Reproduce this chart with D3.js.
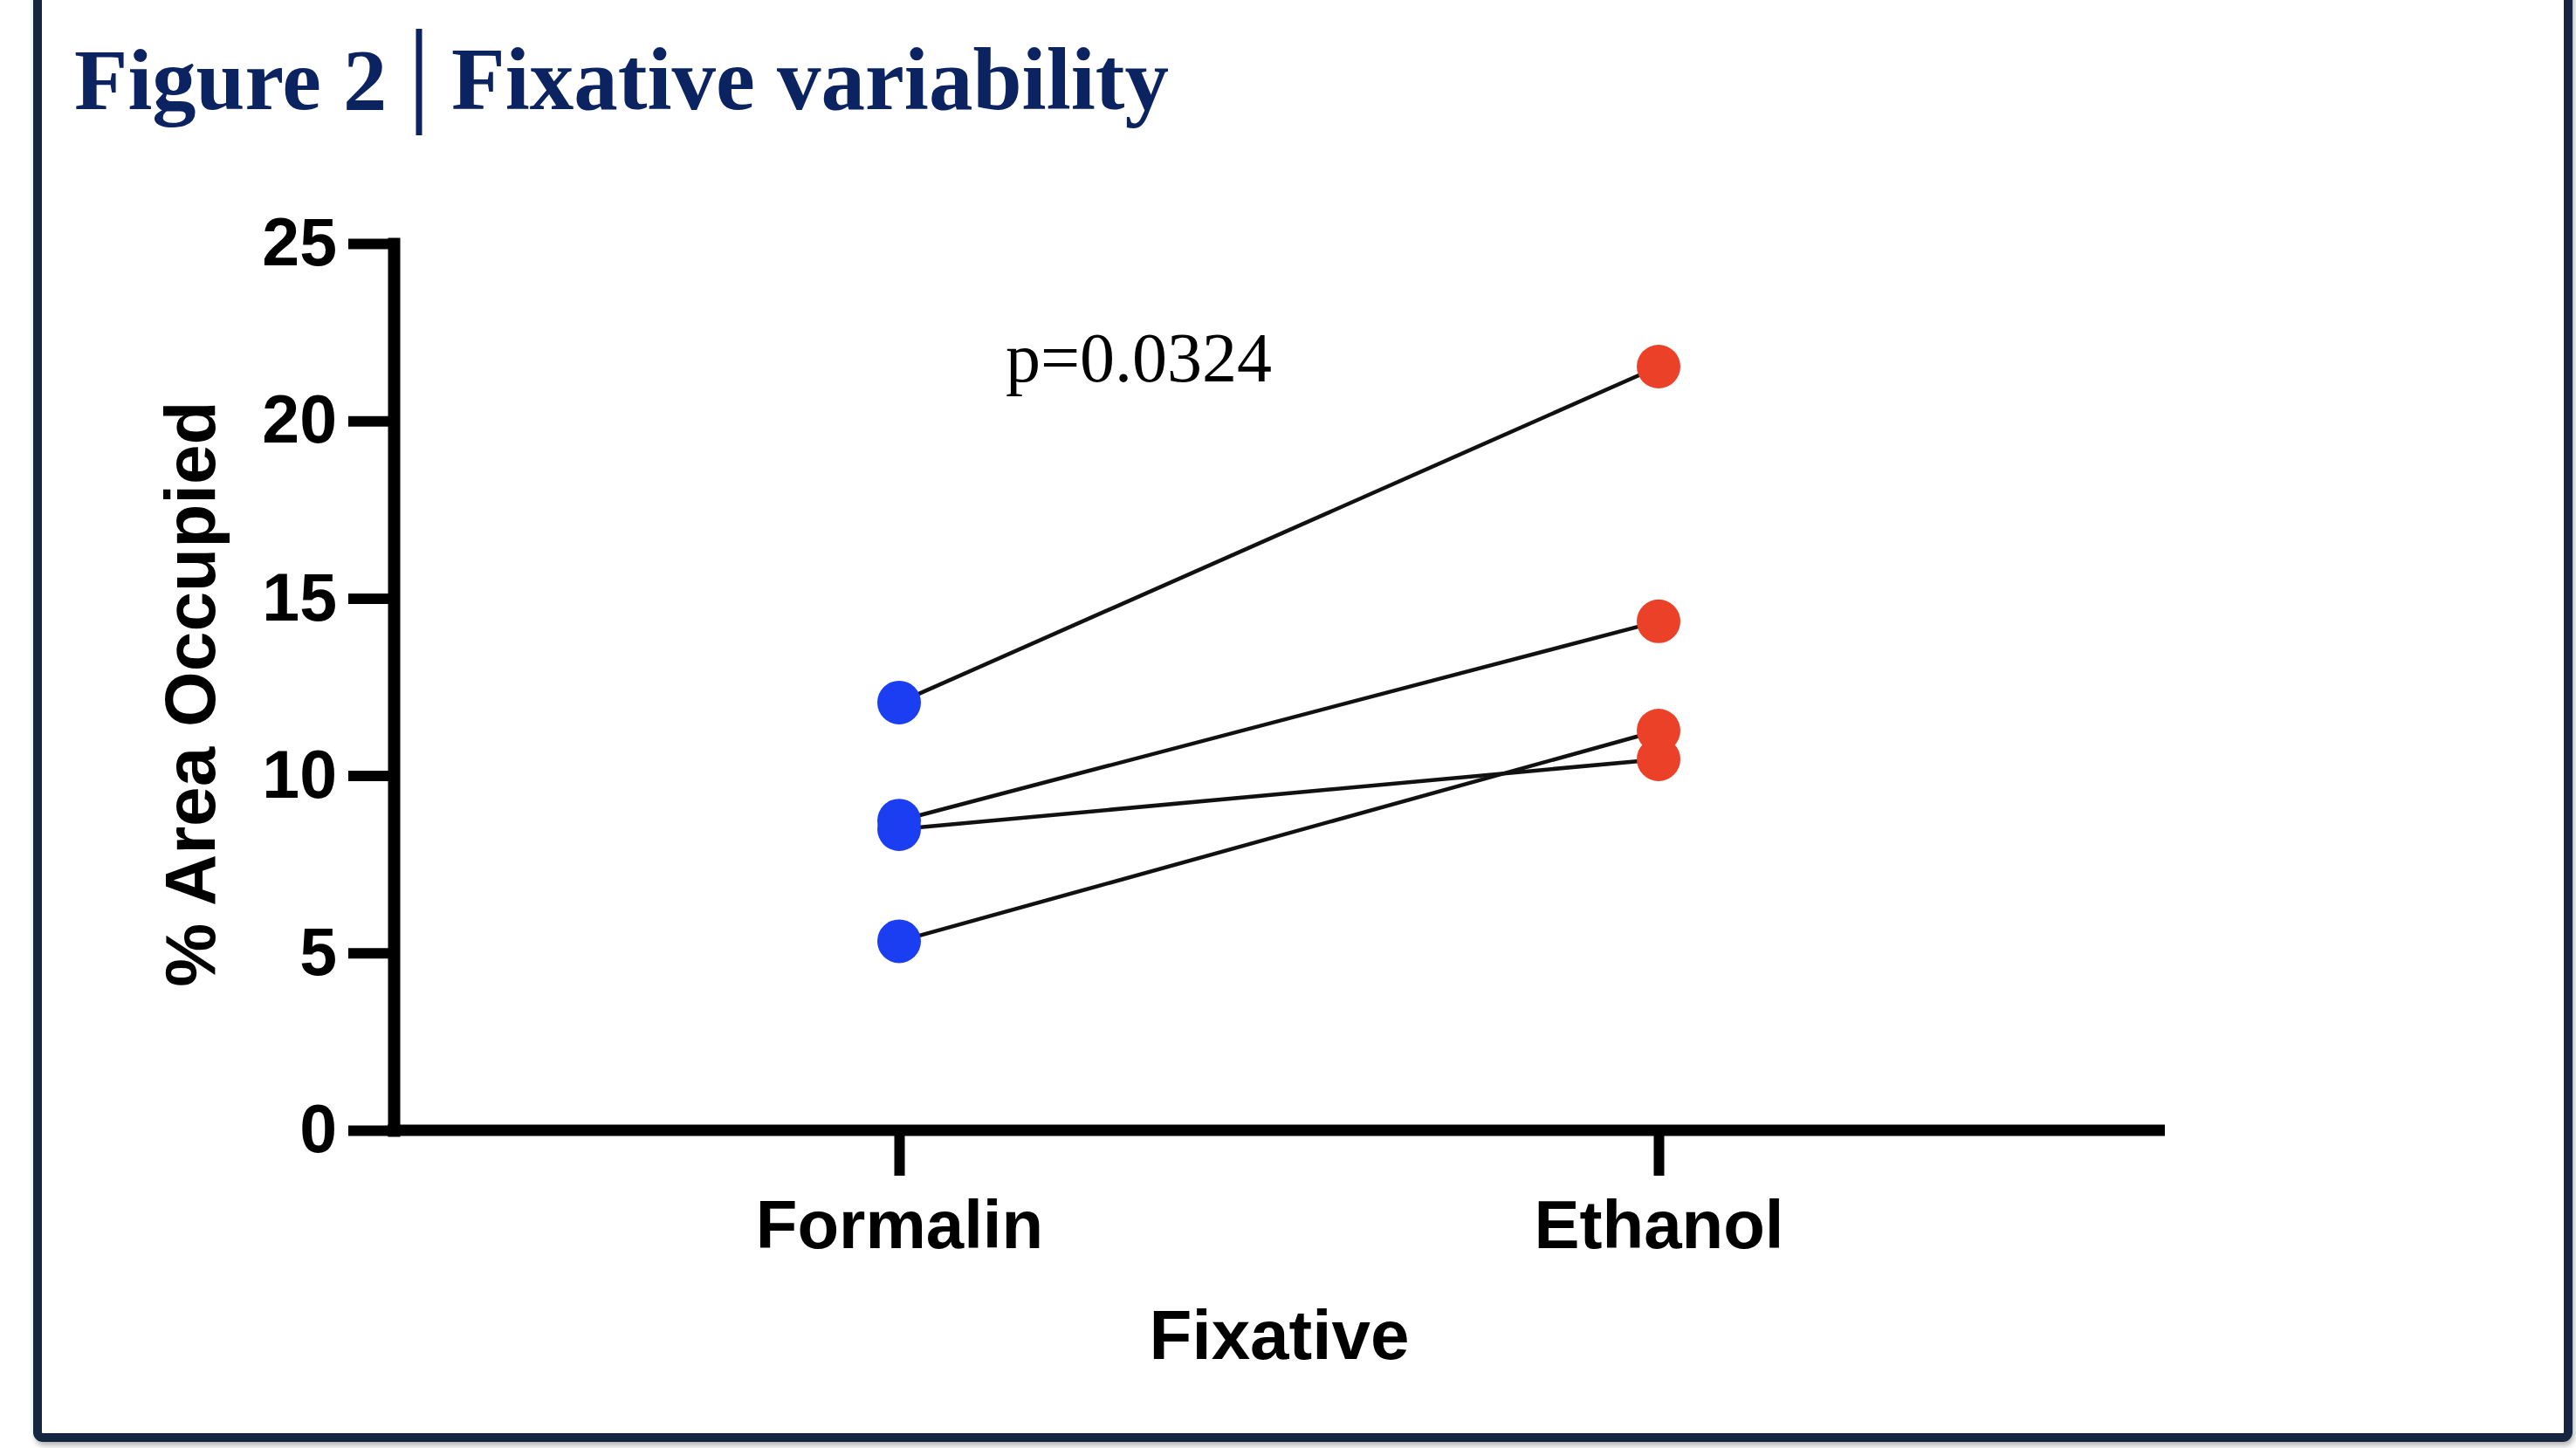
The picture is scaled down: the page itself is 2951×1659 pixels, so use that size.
<!DOCTYPE html>
<html>
<head>
<meta charset="utf-8">
<script src="https://cdn.jsdelivr.net/npm/d3@7"></script>
<style>
  body { margin: 0; background: #fff; }
  svg { display: block; }
</style>
</head>
<body>
<div id="chart"></div>
<script>
// values
const fixatives = ["Formalin", "Ethanol"];
const formalin = [12.06, 8.73, 8.49, 5.33];
const ethanol = [21.53, 14.35, 10.46, 11.27];
const yTicks = [0, 5, 10, 15, 20, 25];
const pLabel = "p=0.0324";

const W = 2951, H = 1659;
const navy = "#0c2361";
const sans = "'Liberation Sans', Arial, Helvetica, sans-serif";
const serif = "'Liberation Serif', 'Times New Roman', serif";

let svg = d3.select("#chart").append("svg")
    .attr("width", W)
    .attr("height", H);

// frame with soft shadow, open at the top
let defs = svg.append("defs");
let shadow = defs.append("filter").attr("id", "shadow")
    .attr("x", "-5%").attr("y", "-5%").attr("width", "110%").attr("height", "110%");
shadow.append("feDropShadow")
    .attr("dx", 2).attr("dy", 4).attr("stdDeviation", 3)
    .attr("flood-color", "#000").attr("flood-opacity", 0.3);

svg.append("rect")
    .attr("x", 43).attr("y", -40)
    .attr("width", 2942 - 43).attr("height", 1647 + 40)
    .attr("rx", 6)
    .attr("fill", "#fff")
    .attr("stroke", "#13263f")
    .attr("stroke-width", 10)
    .attr("filter", "url(#shadow)");

// title
svg.append("text")
    .attr("x", 85).attr("y", 125)
    .style("font", `bold 100.5px ${serif}`)
    .attr("fill", navy)
    .text("Figure 2");
svg.append("line")
    .attr("x1", 480).attr("x2", 480)
    .attr("y1", 33).attr("y2", 155)
    .attr("stroke", navy).attr("stroke-width", 7);
svg.append("text")
    .attr("x", 517).attr("y", 125)
    .style("font", `bold 101px ${serif}`)
    .attr("fill", navy)
    .text("Fixative variability");

// plot area
let plot = {left: 451, right: 2480, top: 279, bottom: 1295};

let y = d3.scaleLinear().domain([0, 25]).range([plot.bottom, plot.top]);
let x = d3.scalePoint().domain(fixatives).range([1030, 1900]);

let yAxis = svg.append("g")
    .attr("transform", `translate(${plot.left},0)`)
    .call(d3.axisLeft(y).tickValues(yTicks).tickSize(52).tickSizeOuter(0).tickPadding(13));
yAxis.select(".domain")
    .attr("stroke", "#000").attr("stroke-width", 14).attr("stroke-linecap", "square");
yAxis.selectAll(".tick line").attr("stroke", "#000").attr("stroke-width", 12);
yAxis.selectAll(".tick text")
    .attr("fill", "#000")
    .style("font", `bold 77px ${sans}`);

let xAxis = svg.append("g")
    .attr("transform", `translate(0,${plot.bottom})`)
    .call(d3.axisBottom(x).tickSize(52).tickSizeOuter(0).tickPadding(28));
xAxis.select(".domain").remove();
xAxis.append("line")
    .attr("x1", plot.left - 7).attr("x2", plot.right)
    .attr("stroke", "#000").attr("stroke-width", 13);
xAxis.selectAll(".tick line").attr("stroke", "#000").attr("stroke-width", 12);
xAxis.selectAll(".tick text")
    .attr("fill", "#000")
    .style("font", `bold 78px ${sans}`);

// axis titles
svg.append("text")
    .attr("transform", `translate(246,795) rotate(-90)`)
    .attr("text-anchor", "middle")
    .style("font", `bold 82px ${sans}`)
    .attr("fill", "#000")
    .text("% Area Occupied");

svg.append("text")
    .attr("x", (plot.left + plot.right) / 2).attr("y", 1557)
    .attr("text-anchor", "middle")
    .style("font", `bold 80px ${sans}`)
    .attr("fill", "#000")
    .text("Fixative");

// paired lines
let pairs = formalin.map((v, i) => ({before: v, after: ethanol[i]}));

svg.append("g").selectAll("line")
    .data(pairs)
    .join("line")
    .attr("x1", x("Formalin"))
    .attr("y1", d => y(d.before))
    .attr("x2", x("Ethanol"))
    .attr("y2", d => y(d.after))
    .attr("stroke", "#111")
    .attr("stroke-width", 4.5);

svg.append("g").selectAll("circle")
    .data(formalin)
    .join("circle")
    .attr("cx", x("Formalin"))
    .attr("cy", d => y(d))
    .attr("r", 25)
    .attr("fill", "#1c3ef2");

svg.append("g").selectAll("circle")
    .data(ethanol)
    .join("circle")
    .attr("cx", x("Ethanol"))
    .attr("cy", d => y(d))
    .attr("r", 25)
    .attr("fill", "#ea4128");

// significance label
svg.append("text")
    .attr("x", 1152).attr("y", 437)
    .style("font", `80px ${serif}`)
    .attr("fill", "#000")
    .text(pLabel);
</script>
</body>
</html>
